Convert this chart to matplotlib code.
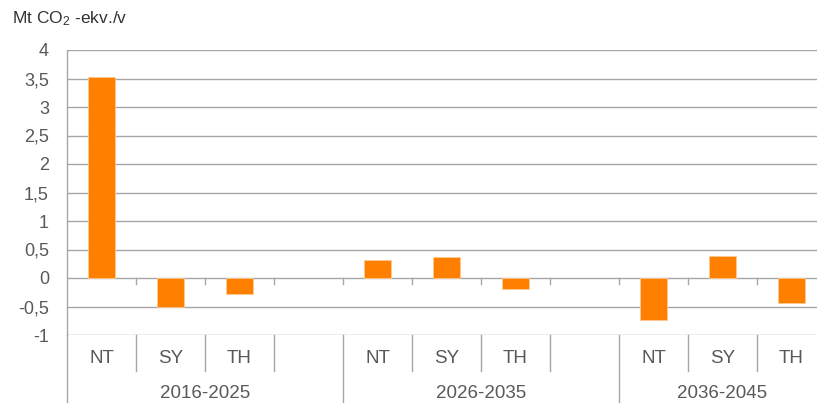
import matplotlib
matplotlib.use("Agg")
import matplotlib.pyplot as plt
import matplotlib.transforms as mtransforms

plt.rcParams['font.family'] = ['Liberation Sans', 'DejaVu Sans']
plt.rcParams['mathtext.fontset'] = 'custom'
plt.rcParams['mathtext.rm'] = 'Liberation Sans'
plt.rcParams['mathtext.default'] = 'regular'

groups = ["2016-2025", "2026-2035", "2036-2045"]
categories = ["NT", "SY", "TH"]
values = {
    "2016-2025": [3.52, -0.50, -0.28],
    "2026-2035": [0.31, 0.36, -0.20],
    "2036-2045": [-0.74, 0.39, -0.44],
}
yticks = [-1, -0.5, 0, 0.5, 1, 1.5, 2, 2.5, 3, 3.5, 4]
ytick_labels = ["-1", "-0,5", "0", "0,5", "1", "1,5", "2", "2,5", "3", "3,5", "4"]
ylabel = r"Mt CO$_2$ -ekv./v"

W, H = 817, 403
fig = plt.figure(figsize=(W / 100, H / 100), dpi=100)
x0, x1, ytop, ybot = 67, 826, 50, 335
ax = fig.add_axes([x0 / W, (H - ybot) / H, (x1 - x0) / W, (ybot - ytop) / H])

bar_color = "#FF8000"
grid_color = "#A6A6A6"
text_color = "#595959"

slots_per_group = 4
n_slots = slots_per_group * (len(groups) - 1) + len(categories)
for gi, g in enumerate(groups):
    xs = [gi * slots_per_group + ci + 0.5 for ci in range(len(categories))]
    ax.bar(xs, values[g], width=0.4, color=bar_color, zorder=3,
           edgecolor="#FFC890", linewidth=0.6)

ax.set_xlim(0, n_slots)
ax.set_ylim(-1, 4)
ax.set_yticks(yticks)
ax.set_yticklabels(ytick_labels)
ax.tick_params(axis='y', length=0, pad=13, labelsize=13, labelcolor=text_color)
ax.set_xticks([])
for y in yticks:
    ax.axhline(y, color=grid_color, lw=1.0, zorder=1)
for s in ["top", "right", "bottom"]:
    ax.spines[s].set_visible(False)
ax.spines["left"].set_color(grid_color)
ax.spines["left"].set_linewidth(1.0)

trans = mtransforms.blended_transform_factory(ax.transData, ax.transAxes)
px = 1.0 / (ybot - ytop)  # one pixel in axes-fraction units

# small ticks on zero line
for b in range(1, n_slots):
    ax.plot([b, b], [0, -0.11], color=grid_color, lw=1.0, zorder=2, clip_on=False)

# category separators and group separators below axis
for b in range(0, n_slots + 1):
    if b % slots_per_group == 0:
        ax.plot([b, b], [0, -(H - ybot + 2) * px], transform=trans, color=grid_color,
                lw=1.0, clip_on=False)
    else:
        ax.plot([b, b], [0, -36 * px], transform=trans, color=grid_color,
                lw=1.0, clip_on=False)

# category labels and group labels
for gi, g in enumerate(groups):
    for ci, c in enumerate(categories):
        ax.text(gi * slots_per_group + ci + 0.5, -23.5 * px, c, transform=trans,
                ha="center", va="center", fontsize=13.5, color=text_color)
    start = gi * slots_per_group
    end = min(start + slots_per_group, n_slots)
    ax.text((start + end) / 2, -59 * px, g, transform=trans, ha="center",
            va="center", fontsize=13.5, color=text_color)

fig.text(12 / W, 1 - 19 / H, ylabel, ha="left", va="center", fontsize=12.5,
         color="#333333")

fig.savefig("out.png", dpi=100)
